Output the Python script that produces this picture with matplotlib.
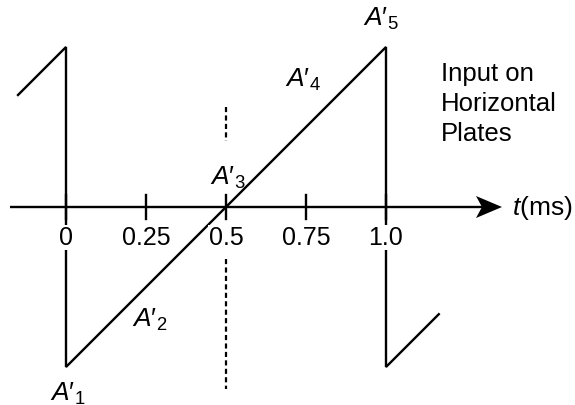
import matplotlib
matplotlib.use("Agg")
import matplotlib.pyplot as plt
from matplotlib.patches import Polygon
import numpy as np

plt.rcParams['font.family'] = ['Liberation Sans', 'DejaVu Sans']
plt.rcParams['mathtext.fontset'] = 'custom'
plt.rcParams['mathtext.rm'] = 'Liberation Sans'
plt.rcParams['mathtext.it'] = 'Liberation Sans:italic'
plt.rcParams['mathtext.fallback'] = 'stixsans'

# sawtooth waveform (time in ms, normalized voltage)
wave_t = [-0.15, 0.0, 0.0, 1.0, 1.0, 1.165]
wave_v = [0.70, 1.0, -1.0, 1.0, -1.0, -0.67]

tick_vals = [0.0, 0.25, 0.5, 0.75, 1.0]
tick_labels = ["0", "0.25", "0.5", "0.75", "1.0"]

point_subs = ["1", "2", "3", "4", "5"]
point_pos = [(0.005, -1.16), (0.26, -0.70), (0.505, 0.19), (0.74, 0.80), (0.985, 1.18)]

W, H = 575, 406
fig = plt.figure(figsize=(W / 100, H / 100), dpi=100)
ax = fig.add_axes([0, 0, 1, 1])
x0, sx = 66, 320.0
y0, sy = 208, 160.0
ax.set_xlim((0 - x0) / sx, (W - x0) / sx)
ax.set_ylim(-(H - y0) / sy, y0 / sy)
ax.axis('off')

lw = 1.7
# horizontal axis
ax.plot([-0.175, 1.31], [0, 0], color='black', lw=lw, solid_capstyle='butt', zorder=2)
head = np.array([[502, 208], [476, 197], [482, 208], [476, 219]], dtype=float)
head_data = np.column_stack([(head[:, 0] - x0) / sx, (y0 - head[:, 1]) / sy])
ax.add_patch(Polygon(head_data, closed=True, color='black', lw=0, zorder=2))

# ticks
for tv in tick_vals:
    ax.plot([tv, tv], [-0.075, 0.075], color='black', lw=lw, zorder=2)

# waveform
ax.plot(wave_t, wave_v, color='black', lw=lw, solid_joinstyle='miter', zorder=2)

# dashed center line
ax.plot([0.5, 0.5], [(y0 - 108) / sy, (y0 - 142) / sy], color='black', lw=1.6,
        dashes=(2.3, 1.5), zorder=2)
ax.plot([0.5, 0.5], [(y0 - 260) / sy, (y0 - 390) / sy], color='black', lw=1.6,
        dashes=(2.3, 1.5), zorder=2)

for tv, tl in zip(tick_vals, tick_labels):
    ax.text(tv, -0.19, tl, ha='center', va='center', fontsize=18, zorder=3,
            bbox=dict(facecolor='white', edgecolor='none', pad=0.5))

for sub, (px, py) in zip(point_subs, point_pos):
    ax.text(px, py, r"$A\prime_{%s}$" % sub, ha='center', va='center', fontsize=19, zorder=4)

ax.text((512 - x0) / sx, 0, r"$t$(ms)", ha='left', va='center', fontsize=19)
ax.text((441 - x0) / sx, (y0 - 104) / sy, "Input on\nHorizontal\nPlates", ha='left',
        va='center', fontsize=18.5, linespacing=1.32)

fig.savefig("out.png", dpi=100)
